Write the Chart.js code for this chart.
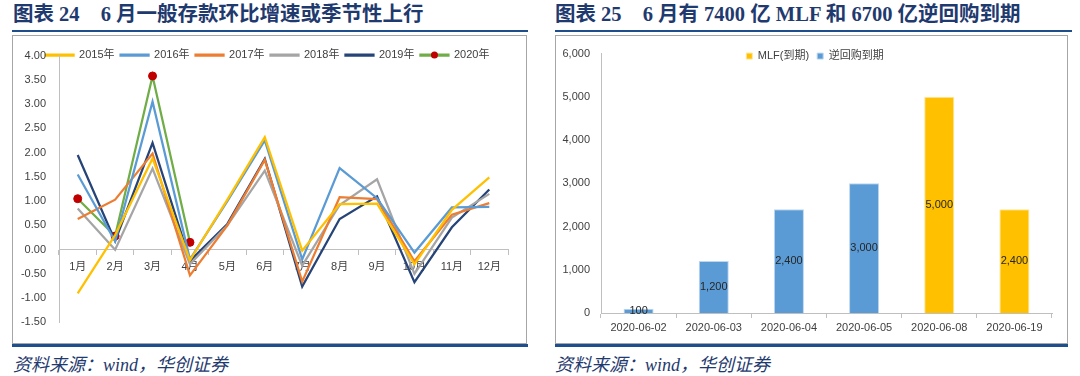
<!DOCTYPE html>
<html>
<head>
<meta charset="utf-8">
<script src="https://cdn.jsdelivr.net/npm/chart.js@4.4.0/dist/chart.umd.min.js"></script>
<style>
body { margin: 0; width: 1080px; height: 376px; background: #fff; position: relative; overflow: hidden;
       font-family: "Liberation Serif", "Noto Sans CJK SC", serif; }
.title { position: absolute; top: 2px; font-weight: bold; font-size: 20.5px; line-height: 25px; color: #1F3A6E; white-space: pre; }
.title span { margin-left: 21px; }
.rule { position: absolute; background: #1F4E8C; }
.box { position: absolute; border: 1px solid #A6A6A6; box-sizing: border-box; }
.src { position: absolute; top: 350px; font-style: italic; font-size: 18px; color: #1F3A6E; white-space: pre; }
canvas { position: absolute; }
</style>
</head>
<body>

<div class="title" style="left:13px">图表 24<span>6 月一般存款环比增速或季节性上行</span></div>
<div class="rule" style="left:12px;top:30px;width:516px;height:2px"></div>
<div class="box" style="left:12px;top:35px;width:515px;height:309px"></div>
<canvas id="depositChart" width="512" height="306" style="left:13px;top:36px"></canvas>
<div class="rule" style="left:12px;top:344px;width:516px;height:3px"></div>
<div class="src" style="left:13px">资料来源：wind，华创证券</div>

<div class="title" style="left:555px">图表 25<span>6 月有 7400 亿 MLF 和 6700 亿逆回购到期</span></div>
<div class="rule" style="left:555px;top:30px;width:517px;height:2px"></div>
<div class="box" style="left:555px;top:35px;width:513px;height:309px"></div>
<canvas id="repoChart" width="511" height="307" style="left:556px;top:36px"></canvas>
<div class="rule" style="left:555px;top:344px;width:513px;height:3px"></div>
<div class="src" style="left:555px">资料来源：wind，华创证券</div>

<script>
// 图表24 数据
var months = ["1月", "2月", "3月", "4月", "5月", "6月", "7月", "8月", "9月", "10月", "11月", "12月"];
var y2015 = [-0.90, 0.30, 1.88, -0.22, 1.03, 2.32, -0.02, 0.94, 0.95, -0.30, 0.82, 1.49];
var y2016 = [1.55, 0.17, 3.05, -0.20, 1.00, 2.25, -0.20, 1.68, 1.06, -0.06, 0.87, 0.88];
var y2017 = [0.63, 1.03, 1.98, -0.53, 0.50, 1.85, -0.66, 1.08, 1.04, -0.24, 0.72, 0.96];
var y2018 = [0.85, 0.00, 1.67, -0.30, 0.50, 1.63, -0.33, 0.92, 1.45, -0.50, 0.66, 1.15];
var y2019 = [1.95, 0.18, 2.20, -0.23, 0.53, 1.87, -0.76, 0.63, 1.10, -0.67, 0.46, 1.24];
var y2020 = [1.05, 0.28, 3.58, 0.15];

// 图表25 数据
var dates = ["2020-06-02", "2020-06-03", "2020-06-04", "2020-06-05", "2020-06-08", "2020-06-19"];
var mlfDue = [null, null, null, null, 5000, 2400];
var repoDue = [100, 1200, 2400, 3000, null, null];

var tickFont = { family: "'Liberation Sans', 'Noto Sans CJK SC', sans-serif", size: 11 };
var axisGray = "#BFBFBF";

var lineSet = function (label, values, color) {
    return {
        label: label,
        data: values,
        borderColor: color,
        backgroundColor: color,
        borderWidth: 2.25,
        pointRadius: 0,
        tension: 0
    };
};

var set2020 = lineSet("2020年", y2020, "#70AD47");
set2020.pointRadius = 4;
set2020.pointBackgroundColor = "#C00000";
set2020.pointBorderColor = "#C00000";
set2020.pointBorderWidth = 1;

// legend floats over the plot: it takes no room in the layout, then gets moved
var floatLegend = function (up, dx) {
    return {
        id: 'floatLegend',
        beforeInit: function (chart) {
            var legend = chart.legend;
            var fit = legend.fit;
            legend.fit = function () {
                fit.call(this);
                this.height = 0;
            };
        },
        afterLayout: function (chart) {
            var legend = chart.legend;
            legend.top -= up;
            legend.bottom = legend.top + 30;
            legend.left += dx;
            legend.right += dx;
        }
    };
};

// red dot on the 2020 legend line
var legendDot = {
    id: 'legendDot',
    afterDraw: function (chart) {
        var box = chart.legend.legendHitBoxes[5];
        if (!box) return;
        var ctx = chart.ctx;
        ctx.save();
        ctx.fillStyle = "#C00000";
        ctx.beginPath();
        ctx.arc(box.left + 14, box.top + box.height / 2, 3.5, 0, Math.PI * 2);
        ctx.fill();
        ctx.restore();
    }
};

var depositChart = new Chart(document.getElementById("depositChart"), {
    type: 'line',
    data: {
        labels: months,
        datasets: [
            lineSet("2015年", y2015, "#FFC000"),
            lineSet("2016年", y2016, "#5B9BD5"),
            lineSet("2017年", y2017, "#ED7D31"),
            lineSet("2018年", y2018, "#A5A5A5"),
            lineSet("2019年", y2019, "#264478"),
            set2020
        ]
    },
    options: {
        responsive: false,
        animation: false,
        layout: { padding: { left: 0, right: 17, top: 15, bottom: 15 } },
        plugins: {
            tooltip: { enabled: false },
            legend: {
                position: 'top',
                labels: { boxWidth: 28, boxHeight: 1, padding: 6, color: "#404040", font: tickFont }
            }
        },
        scales: {
            x: {
                position: { y: 0 },
                offset: true,
                grid: { offset: true, drawOnChartArea: false, drawTicks: true, tickLength: 5, color: axisGray },
                border: { color: axisGray },
                ticks: { color: "#404040", font: tickFont, padding: 6, maxRotation: 0 }
            },
            y: {
                min: -1.5,
                max: 4,
                afterFit: function (s) { s.width = 46; },
                grid: { display: false, drawTicks: false },
                border: { display: true, color: axisGray },
                ticks: {
                    stepSize: 0.5,
                    color: "#404040",
                    font: tickFont,
                    padding: 13,
                    callback: function (v) { return v.toFixed(2); }
                }
            }
        }
    },
    plugins: [floatLegend(12, 7), legendDot]
});

// values written in the middle of each bar
var barLabels = {
    id: 'barLabels',
    afterDatasetsDraw: function (chart) {
        var ctx = chart.ctx;
        ctx.save();
        ctx.font = "11px 'Liberation Sans', sans-serif";
        ctx.fillStyle = "#262626";
        ctx.textAlign = "center";
        ctx.textBaseline = "middle";
        chart.data.datasets.forEach(function (ds, i) {
            chart.getDatasetMeta(i).data.forEach(function (bar, j) {
                var v = ds.data[j];
                if (v === null) return;
                ctx.fillText(v.toLocaleString('en-US'), bar.x, (bar.y + bar.base) / 2);
            });
        });
        ctx.restore();
    }
};

var repoChart = new Chart(document.getElementById("repoChart"), {
    type: 'bar',
    data: {
        labels: dates,
        datasets: [
            { label: "MLF(到期)", data: mlfDue, backgroundColor: "#FFC000", borderColor: "#FFE699", borderWidth: 1 },
            { label: "逆回购到期", data: repoDue, backgroundColor: "#5B9BD5", borderColor: "#BDD7EE", borderWidth: 1 }
        ]
    },
    options: {
        responsive: false,
        animation: false,
        layout: { padding: { left: 0, right: 15, top: 15, bottom: 0 } },
        datasets: { bar: { barPercentage: 0.4, categoryPercentage: 1 } },
        plugins: {
            tooltip: { enabled: false },
            legend: {
                position: 'top',
                labels: { boxWidth: 6, boxHeight: 6, padding: 8, color: "#404040", font: tickFont }
            }
        },
        scales: {
            x: {
                stacked: true,
                afterFit: function (s) { s.height = 30; },
                grid: { offset: true, drawOnChartArea: false, drawTicks: true, tickLength: 5, color: axisGray },
                border: { color: axisGray },
                ticks: { color: "#404040", font: tickFont, padding: 3, maxRotation: 0 }
            },
            y: {
                stacked: true,
                min: 0,
                max: 6000,
                afterFit: function (s) { s.width = 45; },
                grid: { display: false, drawTicks: false },
                border: { display: true, color: axisGray },
                ticks: {
                    stepSize: 1000,
                    color: "#404040",
                    font: tickFont,
                    padding: 11,
                    callback: function (v) { return v.toLocaleString('en-US'); }
                }
            }
        }
    },
    plugins: [floatLegend(11, 11), barLabels]
});
</script>
</body>
</html>
